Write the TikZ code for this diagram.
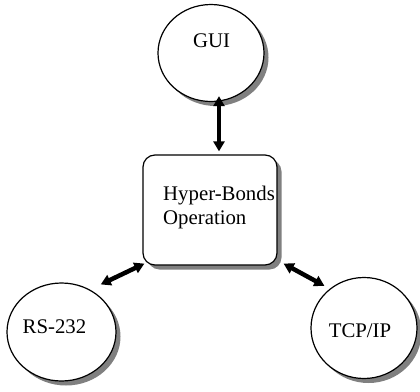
\documentclass[tikz,border=0pt]{standalone}
\usepackage{fontspec}
\setmainfont{Liberation Serif}
\usetikzlibrary{shapes.geometric,shadows,arrows.meta}

\tikzset{
  shaded/.style={draw=black, line width=1.2pt, fill=white,
    drop shadow={shadow xshift=4.5pt, shadow yshift=-4.5pt, fill=black!50, opacity=1}},
  port/.style={shaded, ellipse, inner sep=0pt},
  core/.style={shaded, rectangle, rounded corners=12pt, inner sep=0pt},
  lbl/.style={inner sep=0pt, anchor=base, font=\fontsize{20.8}{24.5}\selectfont},
  biarrow/.style={line width=4.5pt, {Triangle[length=10pt,width=11pt]}-{Triangle[length=10pt,width=11pt]}}
}

\begin{document}
\begin{tikzpicture}[x=1pt,y=-1pt]
  \useasboundingbox (0,0) rectangle (420,391);

  % the three interfaces and the central operation block
  \node[port, minimum width=106pt, minimum height=97pt] (gui) at (211,53) {};
  \node[core, minimum width=134pt, minimum height=110pt] (ops) at (210,210) {};
  \node[port, minimum width=109pt, minimum height=98pt] (rs) at (61.5,332) {};
  \node[port, minimum width=106pt, minimum height=101pt] (tcp) at (364,328) {};

  % labels
  \node[lbl] (guitxt) at (211.5,47) {GUI};
  \node[lbl, anchor=base west] (opstxt1) at (163,200) {Hyper-Bonds};
  \node[lbl, anchor=base west] (opstxt2) at (163,224) {Operation};
  \node[lbl] (rstxt) at (54.5,333) {RS-232};
  \node[lbl] (tcptxt) at (360,337) {TCP/IP};

  % two-way links
  \draw[biarrow] ([shift={(8,-6)}]gui.south) -- ([shift={(9,-3)}]ops.north);
  \draw[biarrow] ([shift={(2,-2)}]ops.south west) -- ([shift={(6,-8)}]rs.50);
  \draw[biarrow] ([shift={(6,-2)}]ops.south east) -- ([shift={(-4,-4)}]tcp.133);
\end{tikzpicture}
\end{document}
